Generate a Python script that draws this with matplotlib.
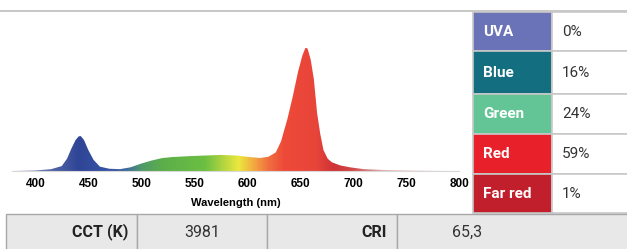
import matplotlib.pyplot as plt
import numpy as np
from matplotlib.colors import LinearSegmentedColormap
from matplotlib.patches import Rectangle, Polygon

plt.rcParams['font.family'] = ['Roboto', 'DejaVu Sans']

# spectrum (relative intensity, red peak = 1)
wavelength = [380, 400, 415, 425, 430, 434, 438, 441, 443, 446, 450, 455, 461, 470, 480,
              490, 500, 510, 520, 530, 545, 560, 575, 590, 600, 612, 620, 627,
              632, 638, 643, 648, 652, 655, 657, 660, 663, 666, 669, 672, 676, 680,
              688, 697, 710, 730, 760, 800]
intensity = [0.0, 0.004, 0.015, 0.04, 0.10, 0.18, 0.25, 0.28, 0.282, 0.25, 0.17, 0.09,
             0.035, 0.018, 0.015, 0.03, 0.06, 0.085, 0.105, 0.113, 0.12, 0.125,
             0.13, 0.125, 0.115, 0.105, 0.115, 0.15, 0.24, 0.42, 0.6, 0.8, 0.93,
             0.995, 0.99, 0.9, 0.74, 0.47, 0.3, 0.17, 0.1, 0.07, 0.045, 0.03, 0.015,
             0.008, 0.003, 0.0]
x_ticks = [400, 450, 500, 550, 600, 650, 700, 750, 800]

# channel share table
channels = ['UVA', 'Blue', 'Green', 'Red', 'Far red']
shares = ['0%', '16%', '24%', '59%', '1%']
channel_colors = ['#6a73b8', '#136e80', '#63c595', '#e8202a', '#c11f2c']

# bottom table
cct_label, cct_value = 'CCT (K)', '3981'
cri_label, cri_value = 'CRI', '65,3'

W, H = 627, 249
fig = plt.figure(figsize=(W / 100, H / 100), dpi=100)

# overlay axes in pixel coordinates for the tables and rules
ov = fig.add_axes([0, 0, 1, 1])
ov.set_xlim(0, W)
ov.set_ylim(H, 0)
ov.axis('off')

# top rule
ov.plot([0, W], [11, 11], color='#bdbdbd', lw=1.2)

# spectrum axes
ax = fig.add_axes([12 / W, (H - 171) / H, 447 / W, 151 / H])
ax.set_xlim(378, 800)
ax.set_ylim(0, 1.22)
for s in ['top', 'right', 'left']:
    ax.spines[s].set_visible(False)
ax.spines['bottom'].set_color('#d8d8d8')
ax.spines['bottom'].set_linewidth(0.8)
ax.set_yticks([])
ax.set_xticks(x_ticks)
ax.set_xticklabels([str(t) for t in x_ticks], fontsize=8.5, fontweight='bold',
                   family=['Liberation Sans', 'DejaVu Sans'])
ax.tick_params(axis='x', length=0, pad=5)
ax.set_xlabel('Wavelength (nm)', fontsize=8, fontweight='bold',
              family=['Liberation Sans', 'DejaVu Sans'], labelpad=6)

spec_cmap = LinearSegmentedColormap.from_list('spec', [
    (0.0, '#8890c0'), (60 / 420, '#2f4596'), (90 / 420, '#3a55a6'),
    (105 / 420, '#3d6aa0'), (120 / 420, '#4f9a6a'), (140 / 420, '#5cae4a'),
    (180 / 420, '#6cbf42'), (198 / 420, '#b5d640'), (212 / 420, '#ebe83e'),
    (225 / 420, '#f2b040'), (240 / 420, '#f07040'), (255 / 420, '#ee4a38'),
    (285 / 420, '#e8453a'), (302 / 420, '#d03236'), (320 / 420, '#d04848'),
    (350 / 420, '#e0b0b0'), (1.0, '#f2e6e6')])
grad = np.linspace(0, 1, 600).reshape(1, -1)
img = ax.imshow(grad, cmap=spec_cmap, aspect='auto', extent=[380, 800, 0, 1.05],
                interpolation='bilinear', zorder=2)
poly = Polygon(np.column_stack([wavelength + [800, 380], intensity + [0, 0]]),
               closed=True, facecolor='none', edgecolor='none',
               transform=ax.transData)
ax.add_patch(poly)
img.set_clip_path(poly)

# right table
row_edges = [12, 51, 94, 134, 174, 213]
for i, (name, val, col) in enumerate(zip(channels, shares, channel_colors)):
    y0, y1 = row_edges[i], row_edges[i + 1]
    ov.add_patch(Rectangle((473, y0), 79, y1 - y0, facecolor=col,
                           edgecolor='#c8c8c8', lw=1.2, zorder=3))
    ov.add_patch(Rectangle((552, y0), 80, y1 - y0, facecolor='white',
                           edgecolor='#c8c8c8', lw=1.2, zorder=3))
    yc = (y0 + y1) / 2
    ov.text(483, yc, name, color='white', fontsize=11, fontweight='bold',
            va='center', ha='left', zorder=4)
    ov.text(562, yc, val, color='#333333', fontsize=11, va='center',
            ha='left', zorder=4)

# bottom table
col_edges = [6, 137, 267, 397, 640]
for i in range(4):
    ov.add_patch(Rectangle((col_edges[i], 214), col_edges[i + 1] - col_edges[i],
                           40, facecolor='#e8e8e8', edgecolor='#a8a8a8',
                           lw=1, zorder=3))
yb = 232
ov.text(128, yb, cct_label, fontsize=11.5, fontweight='bold', ha='right',
        va='center', color='#222222', zorder=4)
ov.text(202, yb, cct_value, fontsize=11.5, ha='center', va='center',
        color='#333333', zorder=4)
ov.text(387, yb, cri_label, fontsize=11.5, fontweight='bold', ha='right',
        va='center', color='#222222', zorder=4)
ov.text(467, yb, cri_value, fontsize=11.5, ha='center', va='center',
        color='#333333', zorder=4)

fig.savefig('out.png', dpi=100)
